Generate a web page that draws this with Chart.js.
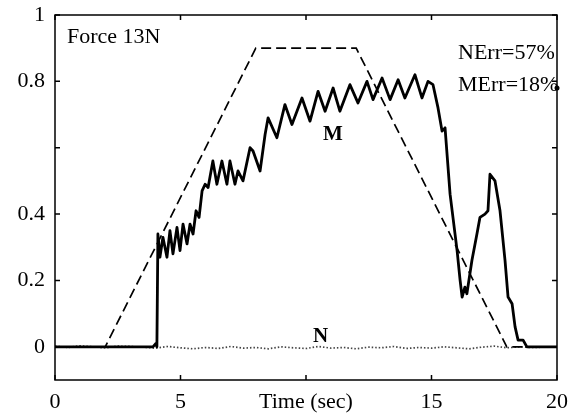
<!DOCTYPE html>
<html>
<head>
<meta charset="utf-8">
<script src="https://cdn.jsdelivr.net/npm/chart.js@4"></script>
<style>
  html, body { margin: 0; padding: 0; background: #fff; }
  #wrap { width: 574px; height: 415px; }
</style>
</head>
<body>
<div id="wrap"><canvas id="forceChart" width="574" height="415"></canvas></div>
<script>
// target force profile (dashed)
const targetTime = [0, 2, 8, 12, 18, 20];
const targetForce = [0, 0, 0.9, 0.9, 0, 0];

// M trace (solid)
const mTime = [0, 3.9, 4.02, 4.06, 4.1, 4.18, 4.3, 4.46, 4.58, 4.7, 4.86, 4.98, 5.1, 5.26, 5.38, 5.5,
  5.62, 5.74, 5.86, 5.98, 6.1, 6.29, 6.45, 6.65, 6.85, 6.97, 7.17, 7.29, 7.49, 7.77, 7.89, 8.17,
  8.37, 8.49, 8.84, 9.16, 9.44, 9.84, 10.16, 10.48, 10.76, 11.08, 11.35, 11.75, 12.07, 12.43, 12.67,
  13.03, 13.35, 13.67, 13.94, 14.34, 14.62, 14.86, 15.06, 15.26, 15.42, 15.54, 15.74, 16.02, 16.14,
  16.22, 16.33, 16.41, 16.61, 16.81, 16.93, 17.13, 17.25, 17.33, 17.53, 17.73, 17.93, 18.05, 18.21,
  18.33, 18.45, 18.65, 18.8, 20];
const mForce = [0, 0, 0.01, 0, 0.34, 0.27, 0.33, 0.27, 0.35, 0.28, 0.36, 0.29, 0.37, 0.31, 0.37, 0.34,
  0.41, 0.39, 0.47, 0.49, 0.48, 0.56, 0.49, 0.56, 0.49, 0.56, 0.49, 0.53, 0.5, 0.6, 0.59, 0.53,
  0.64, 0.69, 0.63, 0.73, 0.67, 0.75, 0.68, 0.77, 0.71, 0.78, 0.71, 0.79, 0.735, 0.8, 0.745,
  0.81, 0.745, 0.805, 0.75, 0.82, 0.75, 0.8, 0.79, 0.72, 0.65, 0.66, 0.46, 0.29, 0.2,
  0.15, 0.18, 0.16, 0.26, 0.34, 0.39, 0.4, 0.41, 0.52, 0.5, 0.41, 0.26, 0.15, 0.13,
  0.06, 0.02, 0.02, 0, 0];

// N trace (dotted, near zero)
const nTime = [0, 0.5, 1, 1.5, 2, 2.5, 3, 3.5, 4, 4.5, 5, 5.5, 6, 6.5, 7, 7.5, 8, 8.5, 9, 9.5, 10,
  10.5, 11, 11.5, 12, 12.5, 13, 13.5, 14, 14.5, 15, 15.5, 16, 16.5, 17, 17.5, 18, 18.5, 19, 19.5, 20];
const nForce = [0.002, -0.002, 0.003, 0, -0.003, 0.002, 0.001, -0.001, -0.004, 0.001, -0.003, -0.006,
  -0.002, -0.005, 0.001, -0.004, -0.002, -0.006, 0, -0.003, -0.005, 0.001, -0.004, -0.002, -0.006,
  -0.001, -0.003, 0.001, -0.005, -0.002, -0.004, 0, -0.003, -0.006, -0.001, 0.002, -0.003, 0, -0.002,
  -0.001, 0];

// odd marker on right frame
const markTime = [20];
const markForce = [0.78];

const xTicks = [0, 5, 10, 15, 20];
const xTickLabels = ['0', '5', 'Time (sec)', '15', '20'];
const yTicks = [0, 0.2, 0.4, 0.6, 0.8, 1];
const yTickLabels = ['0', '0.2', '0.4', '', '0.8', '1'];

const toPoints = (xs, ys) => xs.map((x, i) => ({ x: x, y: ys[i] }));
const serif = 'Liberation Serif, Times New Roman, serif';

// frame, inward ticks and text labels
const framePlugin = {
  id: 'frame',
  afterDraw(chart) {
    const ctx = chart.ctx;
    const a = chart.chartArea;
    const xs = chart.scales.x;
    const ys = chart.scales.y;
    ctx.save();
    ctx.strokeStyle = '#000';
    ctx.lineWidth = 1.5;
    ctx.strokeRect(a.left, a.top, a.right - a.left, a.bottom - a.top);
    ctx.beginPath();
    xTicks.forEach(v => {
      const px = xs.getPixelForValue(v);
      ctx.moveTo(px, a.bottom); ctx.lineTo(px, a.bottom - 5);
      ctx.moveTo(px, a.top); ctx.lineTo(px, a.top + 5);
    });
    yTicks.forEach(v => {
      const py = ys.getPixelForValue(v);
      ctx.moveTo(a.left, py); ctx.lineTo(a.left + 5, py);
      ctx.moveTo(a.right, py); ctx.lineTo(a.right - 5, py);
    });
    ctx.stroke();

    ctx.fillStyle = '#000';
    ctx.textBaseline = 'alphabetic';
    ctx.textAlign = 'left';
    ctx.font = '22px ' + serif;
    ctx.fillText('Force 13N', 67, 43);
    ctx.fillText('NErr=57%', 458, 59);
    ctx.fillText('MErr=18%', 458, 91);
    ctx.font = 'bold 21px ' + serif;
    ctx.fillText('M', 323, 140);
    ctx.fillText('N', 313, 342);
    ctx.restore();
  }
};

new Chart(document.getElementById('forceChart'), {
  type: 'line',
  data: {
    datasets: [
      {
        label: 'M',
        data: toPoints(mTime, mForce),
        borderColor: '#000',
        borderWidth: 2.8,
        borderJoinStyle: 'round',
        pointRadius: 0,
        tension: 0
      },
      {
        label: 'Target',
        data: toPoints(targetTime, targetForce),
        borderColor: '#000',
        borderWidth: 1.7,
        borderDash: [10, 5],
        pointRadius: 0,
        tension: 0
      },
      {
        label: 'N',
        data: toPoints(nTime, nForce),
        borderColor: '#444',
        borderWidth: 1.7,
        borderDash: [1.5, 2],
        pointRadius: 0,
        tension: 0
      },
      {
        label: 'mark',
        data: toPoints(markTime, markForce),
        showLine: false,
        pointRadius: 2.5,
        pointBackgroundColor: '#000',
        pointBorderWidth: 0,
        clip: false
      }
    ]
  },
  options: {
    responsive: false,
    animation: false,
    devicePixelRatio: 1,
    layout: { padding: { left: 0, top: 15, right: 17, bottom: 0 } },
    plugins: {
      legend: { display: false },
      tooltip: { enabled: false }
    },
    scales: {
      x: {
        type: 'linear',
        min: 0,
        max: 20,
        afterBuildTicks: s => { s.ticks = xTicks.map(v => ({ value: v })); },
        afterFit: s => { s.height = 35; s.paddingLeft = 0; s.paddingRight = 0; },
        grid: { display: false, drawTicks: false },
        border: { display: false },
        ticks: {
          color: '#000',
          padding: 9,
          maxRotation: 0,
          font: { family: serif, size: 22 },
          callback: v => xTickLabels[xTicks.indexOf(v)]
        }
      },
      y: {
        min: -0.1,
        max: 1,
        afterBuildTicks: s => { s.ticks = yTicks.map(v => ({ value: v })); },
        afterFit: s => { s.width = 55; s.paddingTop = 0; s.paddingBottom = 0; },
        grid: { display: false, drawTicks: false },
        border: { display: false },
        ticks: {
          color: '#000',
          padding: 10,
          font: { family: serif, size: 22 },
          callback: v => yTickLabels[yTicks.indexOf(v)]
        }
      }
    }
  },
  plugins: [framePlugin]
});
</script>
</body>
</html>
